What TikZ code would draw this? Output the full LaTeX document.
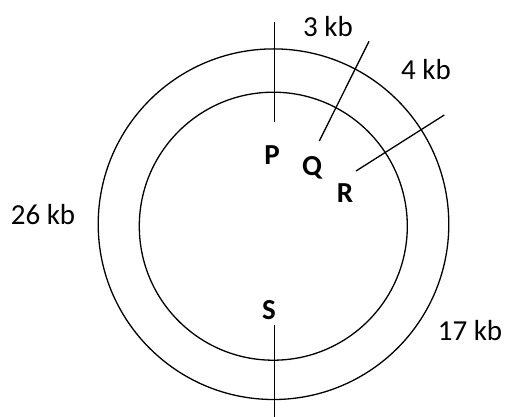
\documentclass[tikz,border=0pt]{standalone}
\usepackage{fontspec}
\setmainfont{Carlito}
\usepackage{tikz}
\usetikzlibrary{positioning}

\begin{document}
\begin{tikzpicture}[
  x=1pt, y=-1pt,
  ring/.style={draw, line width=1.3pt},
  cut/.style={draw, line width=1.3pt},
  size/.style={font=\fontsize{29}{32}\selectfont, inner sep=0pt},
  site/.style={font=\fontsize{29}{32}\selectfont\bfseries, inner sep=0pt},
]
  \useasboundingbox (0,0) rectangle (508,417);
  % plasmid rings
  \draw[ring] (273.5,224.2) circle[radius=175.3];
  \draw[ring] (273.3,226.2) circle[radius=134];

  % cut sites
  \coordinate (p1) at (274.7,22);
  \coordinate (p2) at (274.7,121.7);
  \coordinate (q1) at (369,41.3);
  \coordinate (q2) at (319.3,141);
  \coordinate (r1) at (444.3,115);
  \coordinate (r2) at (356,171);
  \coordinate (s1) at (274.7,325);
  \coordinate (s2) at (274.7,417);
  \draw[cut] (p1) -- (p2);
  \draw[cut] (q1) -- (q2);
  \draw[cut] (r1) -- (r2);
  \draw[cut] (s1) -- (s2);

  \node[site] (P) at (272,155) {P};
  \node[site] (Q) at (312,168) {Q};
  \node[site] (R) at (345,193) {R};
  \node[site] (S) at (269,310) {S};

  \node[size] (k3) at (328,27) {3 kb};
  \node[size] (k4) at (426,70) {4 kb};
  \node[size] (k26) at (43,215) {26 kb};
  \node[size] (k17) at (470,331) {17 kb};
\end{tikzpicture}
\end{document}
